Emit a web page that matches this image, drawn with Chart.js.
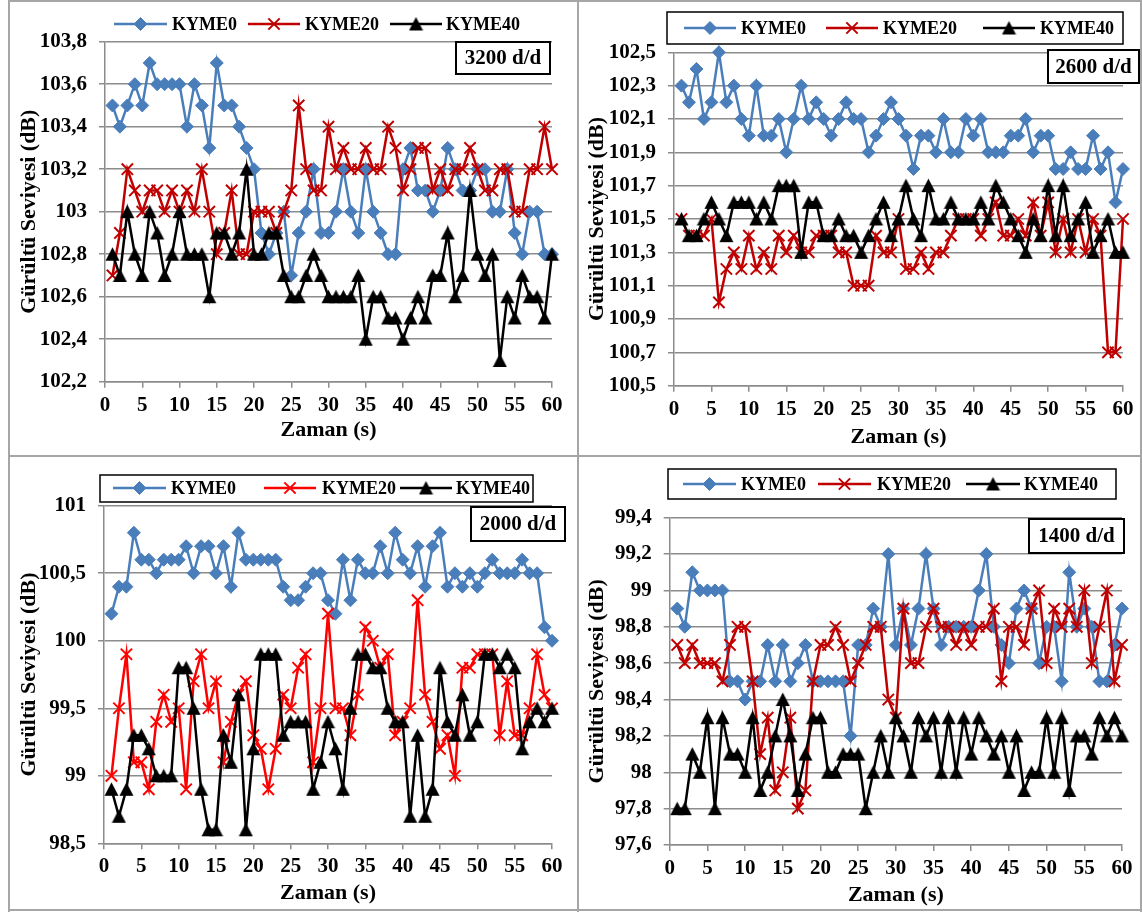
<!DOCTYPE html>
<html lang="tr">
<head>
<meta charset="utf-8">
<title>Gürültü Seviyesi - Zaman</title>
<script src="https://cdn.jsdelivr.net/npm/chart.js@4.4.1/dist/chart.umd.min.js"></script>
<style>
  html, body { margin: 0; padding: 0; background: #fff; }
  #sayfa { position: relative; width: 1142px; height: 912px; background: #fff; overflow: hidden; }
  #sayfa canvas { position: absolute; }
  .cizgi { position: absolute; background: #a6a6a6; z-index: 5; }
</style>
</head>
<body>
<div id="sayfa">
  <canvas id="p3200"></canvas>
  <canvas id="p2600"></canvas>
  <canvas id="p2000"></canvas>
  <canvas id="p1400"></canvas>
  <div class="cizgi" style="left:8px;top:0;width:2px;height:912px"></div>
  <div class="cizgi" style="left:1140px;top:0;width:2px;height:912px"></div>
  <div class="cizgi" style="left:8px;top:0;width:1134px;height:2px"></div>
  <div class="cizgi" style="left:8px;top:909px;width:1134px;height:2px"></div>
  <div class="cizgi" style="left:577px;top:0;width:2px;height:912px"></div>
  <div class="cizgi" style="left:8px;top:455px;width:1134px;height:2px"></div>
</div>
<script>
// ============================================
// VERİ
// ============================================
const ZAMAN = [1, 2, 3, 4, 5, 6, 7, 8, 9, 10, 11, 12, 13, 14, 15, 16, 17, 18, 19, 20,
  21, 22, 23, 24, 25, 26, 27, 28, 29, 30, 31, 32, 33, 34, 35, 36, 37, 38, 39, 40,
  41, 42, 43, 44, 45, 46, 47, 48, 49, 50, 51, 52, 53, 54, 55, 56, 57, 58, 59, 60];
const X_TICKS = [0, 5, 10, 15, 20, 25, 30, 35, 40, 45, 50, 55, 60];
const SERI_ADLARI = ['KYME0', 'KYME20', 'KYME40'];

// 3200 d/d
const Y_TICKS_3200 = [102.2, 102.4, 102.6, 102.8, 103, 103.2, 103.4, 103.6, 103.8];
const KYME0_3200 = [103.5, 103.4, 103.5, 103.6, 103.5, 103.7, 103.6, 103.6, 103.6, 103.6,
  103.4, 103.6, 103.5, 103.3, 103.7, 103.5, 103.5, 103.4, 103.3, 103.2,
  102.9, 102.8, 102.9, 103.0, 102.7, 102.9, 103.0, 103.2, 102.9, 102.9,
  103.0, 103.2, 103.0, 102.9, 103.2, 103.0, 102.9, 102.8, 102.8, 103.2,
  103.3, 103.1, 103.1, 103.0, 103.1, 103.3, 103.2, 103.1, 103.1, 103.2,
  103.2, 103.0, 103.0, 103.2, 102.9, 102.8, 103.0, 103.0, 102.8, 102.8];
const KYME20_3200 = [102.7, 102.9, 103.2, 103.1, 103.0, 103.1, 103.1, 103.0, 103.1, 103.0,
  103.1, 103.0, 103.2, 103.0, 102.8, 102.9, 103.1, 102.8, 102.8, 103.0,
  103.0, 103.0, 102.9, 103.0, 103.1, 103.5, 103.2, 103.1, 103.1, 103.4,
  103.2, 103.3, 103.2, 103.2, 103.3, 103.2, 103.2, 103.4, 103.3, 103.1,
  103.2, 103.3, 103.3, 103.1, 103.2, 103.1, 103.2, 103.2, 103.3, 103.2,
  103.1, 103.1, 103.2, 103.2, 103.0, 103.0, 103.2, 103.2, 103.4, 103.2];
const KYME40_3200 = [102.8, 102.7, 103.0, 102.8, 102.7, 103.0, 102.9, 102.7, 102.8, 103.0,
  102.8, 102.8, 102.8, 102.6, 102.9, 102.9, 102.8, 102.9, 103.2, 102.8,
  102.8, 102.9, 102.9, 102.7, 102.6, 102.6, 102.7, 102.8, 102.7, 102.6,
  102.6, 102.6, 102.6, 102.7, 102.4, 102.6, 102.6, 102.5, 102.5, 102.4,
  102.5, 102.6, 102.5, 102.7, 102.7, 102.9, 102.6, 102.7, 103.1, 102.8,
  102.7, 102.8, 102.3, 102.6, 102.5, 102.7, 102.6, 102.6, 102.5, 102.8];

// 2600 d/d
const Y_TICKS_2600 = [100.5, 100.7, 100.9, 101.1, 101.3, 101.5, 101.7, 101.9, 102.1, 102.3, 102.5];
const KYME0_2600 = [102.3, 102.2, 102.4, 102.1, 102.2, 102.5, 102.2, 102.3, 102.1, 102.0,
  102.3, 102.0, 102.0, 102.1, 101.9, 102.1, 102.3, 102.1, 102.2, 102.1,
  102.0, 102.1, 102.2, 102.1, 102.1, 101.9, 102.0, 102.1, 102.2, 102.1,
  102.0, 101.8, 102.0, 102.0, 101.9, 102.1, 101.9, 101.9, 102.1, 102.0,
  102.1, 101.9, 101.9, 101.9, 102.0, 102.0, 102.1, 101.9, 102.0, 102.0,
  101.8, 101.8, 101.9, 101.8, 101.8, 102.0, 101.8, 101.9, 101.6, 101.8];
const KYME20_2600 = [101.5, 101.4, 101.4, 101.4, 101.5, 101.0, 101.2, 101.3, 101.2, 101.4,
  101.2, 101.3, 101.2, 101.4, 101.3, 101.4, 101.3, 101.3, 101.4, 101.4,
  101.4, 101.3, 101.3, 101.1, 101.1, 101.1, 101.4, 101.3, 101.3, 101.5,
  101.2, 101.2, 101.3, 101.2, 101.3, 101.3, 101.4, 101.5, 101.5, 101.5,
  101.4, 101.5, 101.6, 101.4, 101.4, 101.5, 101.4, 101.6, 101.4, 101.6,
  101.3, 101.5, 101.3, 101.5, 101.3, 101.5, 101.4, 100.7, 100.7, 101.5];
const KYME40_2600 = [101.5, 101.4, 101.4, 101.5, 101.6, 101.5, 101.4, 101.6, 101.6, 101.6,
  101.5, 101.6, 101.5, 101.7, 101.7, 101.7, 101.3, 101.6, 101.6, 101.4,
  101.4, 101.5, 101.4, 101.4, 101.3, 101.4, 101.5, 101.6, 101.4, 101.5,
  101.7, 101.5, 101.4, 101.7, 101.5, 101.5, 101.6, 101.5, 101.5, 101.5,
  101.6, 101.5, 101.7, 101.6, 101.5, 101.4, 101.3, 101.5, 101.4, 101.7,
  101.4, 101.7, 101.4, 101.5, 101.6, 101.3, 101.4, 101.5, 101.3, 101.3];

// 2000 d/d
const Y_TICKS_2000 = [98.5, 99, 99.5, 100, 100.5, 101];
const KYME0_2000 = [100.2, 100.4, 100.4, 100.8, 100.6, 100.6, 100.5, 100.6, 100.6, 100.6,
  100.7, 100.5, 100.7, 100.7, 100.5, 100.7, 100.4, 100.8, 100.6, 100.6,
  100.6, 100.6, 100.6, 100.4, 100.3, 100.3, 100.4, 100.5, 100.5, 100.3,
  100.2, 100.6, 100.3, 100.6, 100.5, 100.5, 100.7, 100.5, 100.8, 100.6,
  100.5, 100.7, 100.4, 100.7, 100.8, 100.4, 100.5, 100.4, 100.5, 100.4,
  100.5, 100.6, 100.5, 100.5, 100.5, 100.6, 100.5, 100.5, 100.1, 100.0];
const KYME20_2000 = [99.0, 99.5, 99.9, 99.1, 99.1, 98.9, 99.4, 99.6, 99.4, 99.5,
  98.9, 99.7, 99.9, 99.5, 99.7, 99.1, 99.4, 99.6, 99.7, 99.3,
  99.2, 98.9, 99.2, 99.6, 99.5, 99.8, 99.9, 99.1, 99.5, 100.2,
  99.5, 99.5, 99.3, 99.6, 100.1, 100.0, 99.8, 99.9, 99.3, 99.4,
  99.5, 100.3, 99.6, 99.4, 99.2, 99.3, 99.0, 99.8, 99.8, 99.9,
  99.9, 99.9, 99.3, 99.7, 99.3, 99.3, 99.5, 99.9, 99.6, 99.5];
const KYME40_2000 = [98.9, 98.7, 98.9, 99.3, 99.3, 99.2, 99.0, 99.0, 99.0, 99.8,
  99.8, 99.5, 98.9, 98.6, 98.6, 99.3, 99.1, 99.6, 98.6, 99.2,
  99.9, 99.9, 99.9, 99.3, 99.4, 99.4, 99.4, 98.9, 99.1, 99.4,
  99.2, 98.9, 99.5, 99.9, 99.9, 99.8, 99.8, 99.5, 99.4, 99.4,
  98.7, 99.3, 98.7, 98.9, 99.8, 99.4, 99.3, 99.6, 99.3, 99.4,
  99.9, 99.9, 99.8, 99.9, 99.8, 99.2, 99.4, 99.5, 99.4, 99.5];

// 1400 d/d
const Y_TICKS_1400 = [97.6, 97.8, 98, 98.2, 98.4, 98.6, 98.8, 99, 99.2, 99.4];
const KYME0_1400 = [98.9, 98.8, 99.1, 99.0, 99.0, 99.0, 99.0, 98.5, 98.5, 98.4,
  98.5, 98.5, 98.7, 98.5, 98.7, 98.5, 98.6, 98.7, 98.5, 98.5,
  98.5, 98.5, 98.5, 98.2, 98.7, 98.7, 98.9, 98.8, 99.2, 98.7,
  98.9, 98.7, 98.9, 99.2, 98.9, 98.7, 98.8, 98.8, 98.8, 98.8,
  99.0, 99.2, 98.8, 98.7, 98.6, 98.9, 99.0, 98.9, 98.6, 98.8,
  98.8, 98.5, 99.1, 98.8, 98.9, 98.8, 98.5, 98.5, 98.7, 98.9];
const KYME20_1400 = [98.7, 98.6, 98.7, 98.6, 98.6, 98.6, 98.5, 98.7, 98.8, 98.8,
  98.5, 98.1, 98.3, 97.9, 98.0, 98.3, 97.8, 97.9, 98.5, 98.7,
  98.7, 98.8, 98.7, 98.5, 98.6, 98.7, 98.8, 98.8, 98.4, 98.3,
  98.9, 98.6, 98.6, 98.8, 98.9, 98.8, 98.8, 98.7, 98.8, 98.7,
  98.8, 98.8, 98.9, 98.5, 98.8, 98.8, 98.7, 98.9, 99.0, 98.6,
  98.9, 98.8, 98.9, 98.8, 99.0, 98.6, 98.8, 99.0, 98.5, 98.7];
const KYME40_1400 = [97.8, 97.8, 98.1, 98.0, 98.3, 97.8, 98.3, 98.1, 98.1, 98.0,
  98.3, 97.9, 98.0, 98.2, 98.4, 98.2, 97.9, 98.1, 98.3, 98.3,
  98.0, 98.0, 98.1, 98.1, 98.1, 97.8, 98.0, 98.2, 98.0, 98.3,
  98.2, 98.0, 98.3, 98.2, 98.3, 98.0, 98.3, 98.0, 98.3, 98.1,
  98.3, 98.2, 98.1, 98.2, 98.0, 98.2, 97.9, 98.0, 98.0, 98.3,
  98.0, 98.3, 97.9, 98.2, 98.2, 98.1, 98.3, 98.2, 98.3, 98.2];

// ============================================
// STİL
// ============================================
const FONT = "'Liberation Serif', 'Times New Roman', serif";
Chart.defaults.font.family = FONT;
Chart.defaults.font.weight = 'bold';
Chart.defaults.color = '#000';

const MAVI = '#4a7ebb';
const KOYU_KIRMIZI = '#c00000';
const KIRMIZI = '#ff0000';
const SIYAH = '#000000';
const GRI = '#8c8c8c';

function sayiYaz(v) { return String(v).replace('.', ','); }

// Excel'deki gibi kutusuna ortalanmış üçgen işaret (Chart.js 'triangle' yukarı kayık)
function ucgenResmi(renk) {
  const c = document.createElement('canvas');
  c.width = 15; c.height = 15;
  const g = c.getContext('2d');
  g.fillStyle = renk;
  g.beginPath();
  g.moveTo(7.5, 0.5);
  g.lineTo(14.5, 14);
  g.lineTo(0.5, 14);
  g.closePath();
  g.fill();
  return c;
}
const UCGEN = ucgenResmi(SIYAH);

function seri(etiket, degerler, renk, stil, r, sira) {
  return {
    label: etiket,
    data: ZAMAN.map((t, i) => ({ x: t, y: degerler[i] })),
    borderColor: renk,
    backgroundColor: renk,
    pointBackgroundColor: renk,
    pointBorderColor: renk,
    pointStyle: stil,
    pointRadius: r,
    pointBorderWidth: stil === 'crossRot' ? 2 : 1,
    borderWidth: 2.5,
    tension: 0,
    clip: false,
    order: sira,
  };
}

// Lejant + "xxxx d/d" kutusu (sayfa koordinatında verilir, canvas'a kaydırılır)
const panelSusu = {
  id: 'panelSusu',
  afterDraw(chart, args, o) {
    const ctx = chart.ctx;
    const ox = o.ox, oy = o.oy;
    ctx.save();
    if (o.cerceve) {
      const c = o.cerceve;
      ctx.lineWidth = 1.5;
      ctx.strokeStyle = '#000';
      ctx.strokeRect(c.x - ox, c.y - oy, c.w, c.h);
    }
    ctx.font = `bold 18px ${FONT}`;
    ctx.textBaseline = 'middle';
    ctx.textAlign = 'left';
    const y = o.y - oy;
    o.ogeler.forEach((g, i) => {
      const ds = chart.data.datasets[i];
      ctx.strokeStyle = ds.borderColor;
      ctx.lineWidth = ds.borderWidth;
      ctx.beginPath();
      ctx.moveTo(g.x1 - ox, y);
      ctx.lineTo(g.x2 - ox, y);
      ctx.stroke();
      ctx.fillStyle = ds.pointBackgroundColor;
      ctx.strokeStyle = ds.pointBorderColor;
      ctx.lineWidth = ds.pointBorderWidth;
      Chart.helpers.drawPoint(ctx, {
        pointStyle: ds.pointStyle, radius: ds.pointRadius, borderWidth: ds.pointBorderWidth, rotation: 0,
      }, (g.x1 + g.x2) / 2 - ox, y);
      ctx.fillStyle = '#000';
      ctx.fillText(ds.label, g.tx - ox, y + 1);
    });
    const k = o.etiket;
    ctx.fillStyle = '#fff';
    ctx.fillRect(k.x - ox, k.y - oy, k.w, k.h);
    ctx.lineWidth = 2;
    ctx.strokeStyle = '#000';
    ctx.strokeRect(k.x - ox, k.y - oy, k.w, k.h);
    ctx.font = `bold 21px ${FONT}`;
    ctx.textAlign = 'center';
    ctx.fillStyle = '#000';
    ctx.fillText(k.metin, k.x + k.w / 2 - ox, k.y + k.h / 2 - oy + 1);
    ctx.restore();
  },
};

// ============================================
// PANELLER
// ============================================
function panelKur(p) {
  const cv = document.getElementById(p.id);
  const b = p.kutu, a = p.alan;
  cv.width = b.w; cv.height = b.h;
  cv.style.left = b.x + 'px'; cv.style.top = b.y + 'px';
  cv.style.width = b.w + 'px'; cv.style.height = b.h + 'px';

  const yGen = a.l - b.x;
  const xYuk = b.y + b.h - a.b;

  new Chart(cv, {
    type: 'line',
    data: {
      datasets: [
        seri(SERI_ADLARI[0], p.seriler[0], MAVI, 'rectRot', 6.5, 3),
        seri(SERI_ADLARI[1], p.seriler[1], p.kirmizi, 'crossRot', 8, 2),
        seri(SERI_ADLARI[2], p.seriler[2], SIYAH, UCGEN, 7.5, 1),
      ],
    },
    options: {
      responsive: false,
      animation: false,
      events: [],
      layout: { padding: { top: a.t - b.y, right: b.x + b.w - a.r, bottom: 0, left: 0 } },
      plugins: {
        legend: { display: false },
        tooltip: { enabled: false },
        panelSusu: { ox: b.x, oy: b.y, y: p.lejant.y, cerceve: p.lejant.cerceve, ogeler: p.lejant.ogeler, etiket: p.etiket },
      },
      scales: {
        x: {
          type: 'linear', min: 0, max: 60,
          afterBuildTicks: (s) => { s.ticks = X_TICKS.map((v) => ({ value: v })); },
          afterFit: (s) => { s.height = xYuk; },
          grid: { drawOnChartArea: false, color: GRI, lineWidth: 1.5, tickLength: 6 },
          border: { color: GRI, width: 1.5 },
          ticks: { font: { size: 21 }, padding: 5, maxRotation: 0, autoSkip: false },
          title: { display: true, text: 'Zaman (s)', font: { size: 22 }, padding: { top: 0, bottom: p.xBaslik } },
        },
        y: {
          min: p.yTicks[0], max: p.yTicks[p.yTicks.length - 1],
          afterBuildTicks: (s) => { s.ticks = p.yTicks.map((v) => ({ value: v })); },
          afterFit: (s) => { s.width = yGen; },
          grid: { color: GRI, lineWidth: 1.5, tickLength: 6 },
          border: { color: GRI, width: 1.5 },
          ticks: { font: { size: 21 }, padding: 12, callback: (v) => sayiYaz(v) },
          title: { display: true, text: 'Gürültü Seviyesi (dB)', font: { size: 22 }, padding: { top: p.yBaslik, bottom: 0 } },
        },
      },
    },
    plugins: [panelSusu],
  });
}

panelKur({
  id: 'p3200',
  kutu: { x: 10, y: 2, w: 567, h: 453 },
  alan: { l: 105, t: 41.7, r: 552, b: 381.7 },
  yTicks: Y_TICKS_3200,
  seriler: [KYME0_3200, KYME20_3200, KYME40_3200],
  kirmizi: KOYU_KIRMIZI,
  xBaslik: 11.8, yBaslik: 5.8,
  lejant: { y: 24, cerceve: null, ogeler: [{ x1: 114, x2: 167, tx: 172 }, { x1: 248, x2: 300, tx: 305 }, { x1: 390, x2: 442, tx: 446 }] },
  etiket: { x: 456, y: 42, w: 94, h: 32, metin: '3200 d/d' },
});

panelKur({
  id: 'p2600',
  kutu: { x: 579, y: 2, w: 561, h: 453 },
  alan: { l: 674, t: 52.3, r: 1123, b: 385.7 },
  yTicks: Y_TICKS_2600,
  seriler: [KYME0_2600, KYME20_2600, KYME40_2600],
  kirmizi: KOYU_KIRMIZI,
  xBaslik: 4.8, yBaslik: 4.8,
  lejant: { y: 28, cerceve: { x: 667, y: 12, w: 456, h: 32 }, ogeler: [{ x1: 684, x2: 736, tx: 741 }, { x1: 826, x2: 878, tx: 883 }, { x1: 983, x2: 1035, tx: 1040 }] },
  etiket: { x: 1048, y: 50, w: 91, h: 33, metin: '2600 d/d' },
});

panelKur({
  id: 'p2000',
  kutu: { x: 10, y: 457, w: 567, h: 452 },
  alan: { l: 104, t: 505.7, r: 552, b: 843.3 },
  yTicks: Y_TICKS_2000,
  seriler: [KYME0_2000, KYME20_2000, KYME40_2000],
  kirmizi: KIRMIZI,
  xBaslik: 2.8, yBaslik: 5.8,
  lejant: { y: 488, cerceve: { x: 100, y: 475, w: 433, h: 27 }, ogeler: [{ x1: 113, x2: 166, tx: 171 }, { x1: 264, x2: 316, tx: 322 }, { x1: 400, x2: 452, tx: 456 }] },
  etiket: { x: 471, y: 507, w: 94, h: 34, metin: '2000 d/d' },
});

panelKur({
  id: 'p1400',
  kutu: { x: 579, y: 457, w: 561, h: 452 },
  alan: { l: 669.7, t: 517.7, r: 1122, b: 845 },
  yTicks: Y_TICKS_1400,
  seriler: [KYME0_1400, KYME20_1400, KYME40_1400],
  kirmizi: KOYU_KIRMIZI,
  xBaslik: 0, yBaslik: 4.8,
  lejant: { y: 484, cerceve: { x: 668, y: 469, w: 448, h: 30 }, ogeler: [{ x1: 683, x2: 736, tx: 741 }, { x1: 818, x2: 871, tx: 877 }, { x1: 966, x2: 1020, tx: 1024 }] },
  etiket: { x: 1029, y: 519, w: 95, h: 34, metin: '1400 d/d' },
});
</script>
</body>
</html>
